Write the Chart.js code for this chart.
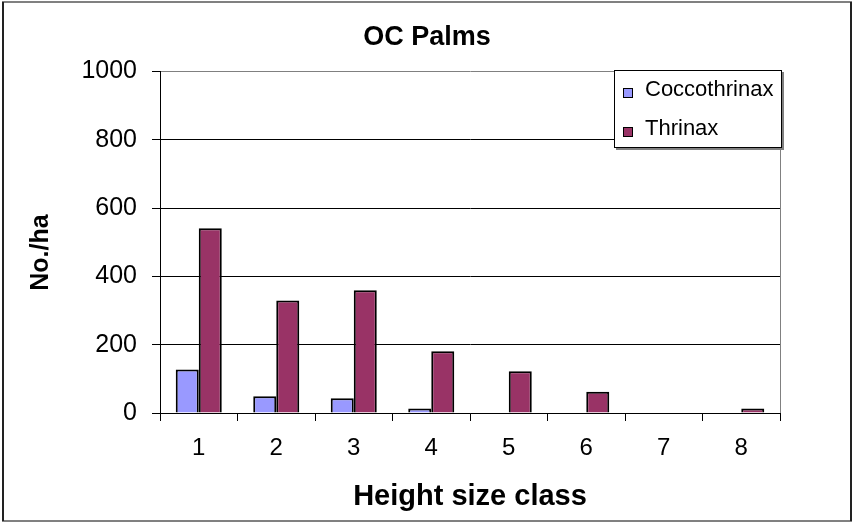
<!DOCTYPE html>
<html>
<head>
<meta charset="utf-8">
<script src="https://cdn.jsdelivr.net/npm/chart.js@4/dist/chart.umd.min.js"></script>
<style>
  html, body { margin: 0; padding: 0; background: #fff; }
  #wrap { width: 854px; height: 523px; }
</style>
</head>
<body>
<div id="wrap"><canvas id="palms" width="854" height="523"></canvas></div>
<script>
const classes = ['1', '2', '3', '4', '5', '6', '7', '8'];
const coccothrinax = [127, 49, 43, 13, 0, 0, 0, 0];
const thrinax = [541, 329, 359, 181, 122, 62, 0, 13];
const yTicks = [0, 200, 400, 600, 800, 1000];

const FONT = "'Liberation Sans', Arial, sans-serif";

// legend box floats over the top right of the plot, like the Excel one
const boxLegend = {
  id: 'boxLegend',
  afterDraw(chart) {
    const ctx = chart.ctx;
    const x = 614, y = 70, w = 168, h = 78;
    ctx.save();
    ctx.fillStyle = '#808080';
    ctx.fillRect(x + 2, y + 2, w, h);
    ctx.fillStyle = '#fff';
    ctx.fillRect(x, y, w, h);
    ctx.strokeStyle = '#000';
    ctx.lineWidth = 1;
    ctx.strokeRect(x + 0.5, y + 0.5, w - 1, h - 1);
    ctx.font = '22px ' + FONT;
    ctx.textBaseline = 'middle';
    chart.data.datasets.forEach((ds, i) => {
      const cy = y + 20 + i * 39;
      ctx.fillStyle = ds.backgroundColor;
      ctx.fillRect(x + 9, cy - 2, 10, 10);
      ctx.strokeStyle = '#000';
      ctx.strokeRect(x + 9.5, cy - 1.5, 9, 9);
      ctx.fillStyle = '#000';
      ctx.fillText(ds.label, x + 31, cy);
    });
    ctx.restore();
  }
};

const frame = {
  id: 'frame',
  beforeDatasetsDraw(chart) {
    const { ctx, chartArea: a } = chart;
    ctx.save();
    ctx.strokeStyle = '#808080';
    ctx.lineWidth = 1;
    ctx.beginPath();
    ctx.moveTo(a.right + 0.5, a.top);
    ctx.lineTo(a.right + 0.5, a.bottom);
    ctx.stroke();
    ctx.restore();
  },
  afterDraw(chart) {
    const ctx = chart.ctx;
    ctx.save();
    ctx.lineWidth = 2;
    ctx.strokeStyle = '#808080';
    ctx.beginPath();
    ctx.moveTo(2, 2); ctx.lineTo(852, 2);
    ctx.moveTo(2, 521); ctx.lineTo(852, 521);
    ctx.stroke();
    ctx.strokeStyle = '#222';
    ctx.beginPath();
    ctx.moveTo(3, 2); ctx.lineTo(3, 521);
    ctx.moveTo(851, 2); ctx.lineTo(851, 521);
    ctx.stroke();
    ctx.restore();
  }
};

new Chart(document.getElementById('palms'), {
  type: 'bar',
  data: {
    labels: classes,
    datasets: [
      { label: 'Coccothrinax', data: coccothrinax, backgroundColor: '#9999FF', borderColor: '#000', borderWidth: 2 },
      { label: 'Thrinax', data: thrinax, backgroundColor: '#993366', borderColor: '#000', borderWidth: 2 }
    ]
  },
  options: {
    responsive: false,
    animation: false,
    layout: { padding: 0 },
    datasets: { bar: { categoryPercentage: 0.594, barPercentage: 1 } },
    plugins: {
      legend: { display: false },
      tooltip: { enabled: false },
      title: {
        display: true,
        text: 'OC Palms',
        color: '#000',
        font: { family: FONT, size: 27, weight: 'bold' },
        padding: { top: 21, bottom: 18 }
      }
    },
    scales: {
      x: {
        grid: { display: true, offset: true, drawOnChartArea: false, tickLength: 8, color: '#000' },
        border: { color: '#000', width: 1 },
        ticks: { color: '#000', padding: 13, font: { family: FONT, size: 24 } },
        title: { display: true, text: 'Height size class', color: '#000', font: { family: FONT, size: 29, weight: 'bold' }, padding: { top: 0, bottom: 9 } },
        afterFit(s) { s.height = 110; }
      },
      y: {
        min: 0,
        max: 1000,
        afterBuildTicks(s) { s.ticks = yTicks.map(v => ({ value: v })); },
        grid: {
          color: c => c.tick && c.tick.value === 1000 ? '#808080' : '#000',
          tickColor: '#000',
          tickLength: 8,
          lineWidth: 1
        },
        border: { color: '#000', width: 1 },
        ticks: { color: '#000', padding: 15, font: { family: FONT, size: 25 }, callback: v => String(v) },
        title: { display: true, text: 'No./ha   ', color: '#000', font: { family: FONT, size: 25, weight: 'bold' }, padding: { top: 26, bottom: 0 } },
        afterFit(s) { s.width = 160; }
      },
      // empty right-hand box so the plot ends at x=780 while the title centres on the page
      side: {
        type: 'linear',
        position: 'right',
        grid: { display: false },
        border: { display: false },
        ticks: { display: false },
        afterFit(s) { s.width = 74; }
      }
    }
  },
  plugins: [frame, boxLegend]
});
</script>
</body>
</html>
